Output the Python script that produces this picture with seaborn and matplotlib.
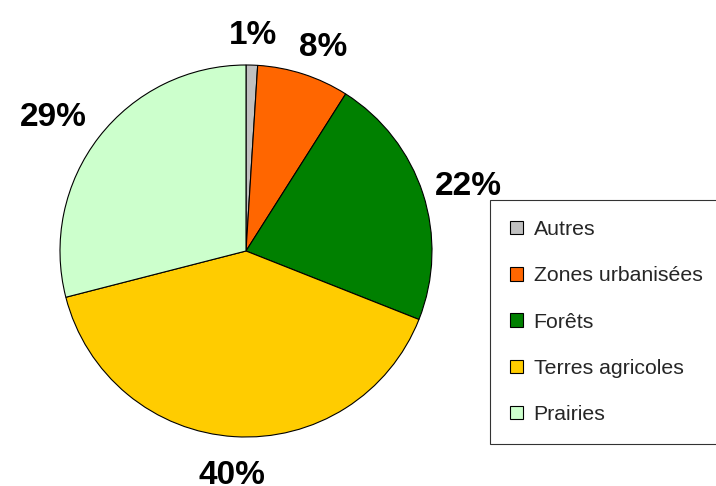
import matplotlib
matplotlib.use("Agg")
import numpy as np
import matplotlib.pyplot as plt
import seaborn as sns

sns.set_theme(style="white")
plt.rcParams['font.family'] = ['Liberation Sans', 'DejaVu Sans']

# data
categories = ["Autres", "Zones urbanisées", "Forêts", "Terres agricoles", "Prairies"]
shares = [1, 8, 22, 40, 29]
colors = ["#C0C0C0", "#FF6600", "#008000", "#FFCC00", "#CCFFCC"]

# label placement (radius multiples and small angle nudges, in degrees)
label_dist = [1.18, 1.19, 1.25, 1.19, 1.27]
label_nudge = [0, -2.5, -1, 0, 2.5]

fig = plt.figure(figsize=(7.16, 4.86), dpi=100)
fig.patch.set_facecolor("white")

# square axes for the pie
ax = fig.add_axes([60 / 716, 49 / 486, 372 / 716, 372 / 486])
wedges, texts = ax.pie(
    shares,
    colors=colors,
    startangle=90,
    counterclock=False,
    radius=1,
    wedgeprops=dict(edgecolor="black", linewidth=0.8),
)
ax.set_xlim(-1, 1)
ax.set_ylim(-1, 1)
ax.set_aspect("equal")
ax.axis("off")

# percentage labels outside the pie
for w, val, d, nudge in zip(wedges, shares, label_dist, label_nudge):
    ang = np.deg2rad((w.theta1 + w.theta2) / 2 + nudge)
    ax.text(d * np.cos(ang), d * np.sin(ang), f"{val}%",
            ha="center", va="center_baseline",
            fontsize=24, fontweight="bold", color="black", clip_on=False)

leg = fig.legend(
    wedges, categories,
    loc="upper left",
    bbox_to_anchor=(490 / 716, 1 - 200 / 486),
    borderaxespad=0,
    frameon=True,
    fancybox=False,
    edgecolor="black",
    fontsize=15.3,
    handlelength=0.6,
    handleheight=0.6,
    handletextpad=0.5,
    labelspacing=1.28,
    borderpad=0.95,
)
leg.get_frame().set_linewidth(0.8)
for h in leg.legend_handles:
    h.set_linewidth(0.8)

fig.savefig("out.png", dpi=100, facecolor="white")
